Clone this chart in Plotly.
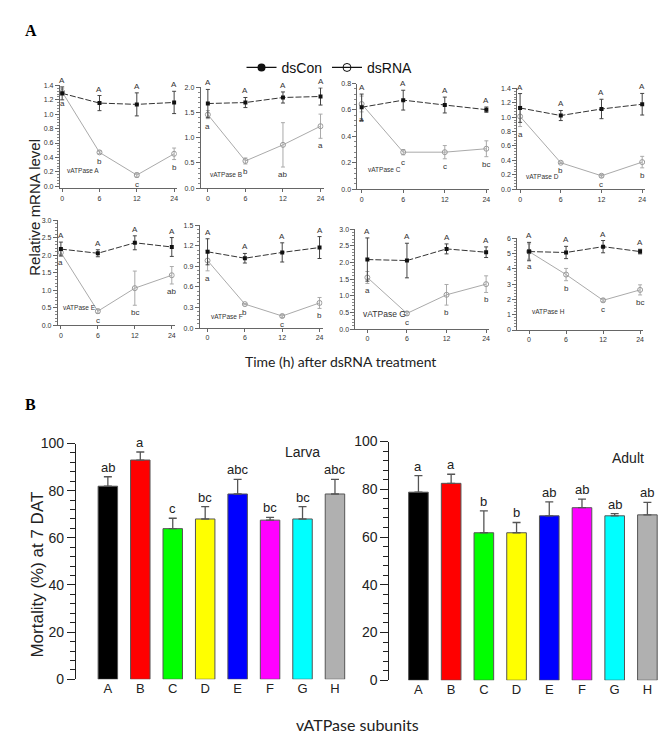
import plotly.graph_objects as go

W, H = 669, 738

# ---- panel A data: relative mRNA level over time ----
times = ["0", "6", "12", "24"]
subunits = ["A", "B", "C", "D", "E", "F", "G", "H"]

con_mean = [
    [1.29, 1.155, 1.137, 1.164],
    [1.68, 1.70, 1.80, 1.82],
    [0.62, 0.674, 0.637, 0.602],
    [1.128, 1.023, 1.114, 1.18],
    [2.18, 2.06, 2.36, 2.24],
    [1.114, 1.02, 1.105, 1.176],
    [2.09, 2.06, 2.41, 2.31],
    [5.12, 5.06, 5.44, 5.12],
]
con_err = [
    [0.09, 0.105, 0.16, 0.155],
    [0.28, 0.10, 0.11, 0.17],
    [0.10, 0.075, 0.06, 0.02],
    [0.20, 0.07, 0.135, 0.15],
    [0.20, 0.10, 0.20, 0.27],
    [0.19, 0.07, 0.14, 0.16],
    [0.65, 0.52, 0.15, 0.16],
    [0.60, 0.40, 0.40, 0.15],
]
rna_mean = [
    [1.31, 0.47, 0.154, 0.45],
    [1.46, 0.54, 0.86, 1.23],
    [0.645, 0.28, 0.28, 0.306],
    [1.01, 0.367, 0.186, 0.376],
    [2.08, 0.40, 1.06, 1.43],
    [0.986, 0.35, 0.176, 0.367],
    [1.55, 0.47, 1.03, 1.35],
    [5.12, 3.62, 1.94, 2.62],
]
rna_err = [
    [0.05, 0.02, 0.03, 0.08],
    [0.08, 0.06, 0.44, 0.24],
    [0.06, 0.02, 0.05, 0.06],
    [0.14, 0.01, 0.02, 0.08],
    [0.08, 0.06, 0.49, 0.25],
    [0.15, 0.01, 0.02, 0.08],
    [0.18, 0.06, 0.31, 0.25],
    [0.50, 0.40, 0.10, 0.33],
]
rna_letters = [
    ["a", "b", "c", "b"],
    ["a", "b", "ab", "a"],
    ["a", "c", "c", "bc"],
    ["a", "b", "c", "b"],
    ["a", "c", "bc", "ab"],
    ["a", "b", "c", "b"],
    ["a", "c", "b", "b"],
    ["a", "b", "c", "bc"],
]
y_max = [1.4, 2.0, 0.8, 1.4, 3.0, 1.5, 3.0, 6.0]
y_step = [0.2, 0.5, 0.2, 0.2, 0.5, 0.3, 0.5, 1.0]

# ---- panel B data: mortality at 7 DAT ----
larva_mean = [81.9, 93.0, 63.9, 68.0, 78.6, 67.5, 68.0, 78.6]
larva_err = [4.0, 3.4, 4.4, 5.2, 6.2, 1.2, 5.2, 6.2]
larva_letters = ["ab", "a", "c", "bc", "abc", "bc", "bc", "abc"]
adult_mean = [78.8, 82.5, 61.8, 61.8, 68.9, 72.3, 68.9, 69.3]
adult_err = [6.9, 3.8, 9.2, 4.3, 5.8, 3.6, 0.9, 5.2]
adult_letters = ["a", "a", "b", "b", "ab", "ab", "ab", "ab"]
bar_colors = ["#000000", "#ff0000", "#00ff00", "#ffff00", "#0000ff",
              "#ff00ff", "#00ffff", "#b0b0b0"]


def px(p):
    return p / W


def py(p):
    return 1 - p / H


# pixel boxes for the line panels: (x0, x1, y_top, y_bottom, xmin, xmax, ymin)
boxes = [
    (52, 169, 71, 176, -0.06, 3.07, -0.028),
    (193, 316, 73, 176, -0.19, 3.08, 0),
    (350, 482, 69, 177, -0.10, 3.07, 0),
    (510, 638, 74, 177, -0.07, 3.07, 0),
    (50, 167, 209, 316, -0.08, 3.08, 0),
    (192, 315, 214, 319, -0.21, 3.08, 0),
    (348, 482, 218, 320, -0.30, 3.08, 0),
    (510, 636, 227, 321, -0.32, 3.08, 0),
]
# where the "vATPase X" caption sits, in each panel's own units
label_pos = [(0.08, 0.22), (0.0, 0.27), (0.1, 0.15), (0.1, 0.18),
             (0.0, 0.5), (0.05, 0.17), (-0.15, 0.44), (0.03, 1.2)]

fig = go.Figure()
layout = {}
annotations = []
tiny = dict(family="Arial", size=7, color="#333")

for i, s in enumerate(subunits):
    k = i + 1
    xa = "x" if k == 1 else f"x{k}"
    ya = "y" if k == 1 else f"y{k}"
    x0, x1, yt, yb, xmin, xmax, ymin = boxes[i]
    xs = list(range(len(times)))
    layout[f"xaxis{k}"] = dict(
        domain=[px(x0), px(x1)], anchor=ya, range=[xmin, xmax],
        tickvals=xs, ticktext=times, showgrid=False, zeroline=False,
        showline=True, linecolor="#666", linewidth=1, ticks="outside",
        ticklen=3, tickcolor="#666", tickfont=tiny,
    )
    layout[f"yaxis{k}"] = dict(
        domain=[py(yb), py(yt)], anchor=xa, range=[ymin, y_max[i]],
        dtick=y_step[i], tick0=0,
        tickformat=".0f" if y_step[i] >= 1 else ".1f",
        showgrid=False, zeroline=False, showline=True, linecolor="#666",
        linewidth=1, ticks="outside", ticklen=4, tickcolor="#666",
        tickfont=tiny,
        minor=dict(dtick=y_step[i] / 5, ticks="outside", ticklen=2,
                   tickcolor="#888", showgrid=False),
    )
    fig.add_trace(go.Scatter(
        x=xs, y=rna_mean[i], xaxis=xa, yaxis=ya, mode="lines+markers",
        line=dict(color="#aaaaaa", width=1),
        marker=dict(symbol="circle-open", size=5, color="#999999"),
        error_y=dict(type="data", array=rna_err[i], color="#aaaaaa",
                     thickness=1, width=2),
        showlegend=False,
    ))
    fig.add_trace(go.Scatter(
        x=xs, y=con_mean[i], xaxis=xa, yaxis=ya, mode="lines+markers",
        line=dict(color="#333333", width=1, dash="6px,2px"),
        marker=dict(symbol="square", size=4, color="#111111"),
        error_y=dict(type="data", array=con_err[i], color="#444444",
                     thickness=1, width=2),
        showlegend=False,
    ))
    for j in xs:
        annotations.append(dict(
            x=j, y=con_mean[i][j] + con_err[i][j], xref=xa, yref=ya,
            text="A", showarrow=False, xanchor="center", yanchor="bottom",
            font=dict(family="Arial", size=8, color="#333"),
        ))
        annotations.append(dict(
            x=j, y=rna_mean[i][j] - rna_err[i][j], xref=xa, yref=ya,
            text=rna_letters[i][j], showarrow=False, xanchor="center",
            yanchor="top", yshift=-1,
            font=dict(family="Arial", size=8, color="#333"),
        ))
    lx, ly = label_pos[i]
    annotations.append(dict(
        x=lx, y=ly, xref=xa, yref=ya, text="vATPase " + s,
        showarrow=False, xanchor="left", yanchor="middle",
        font=dict(family="Arial", size=8.5 if s == "G" else 6.5, color="#333"),
    ))

# legend entries
fig.add_trace(go.Scatter(
    x=[None], y=[None], mode="lines+markers", name="dsCon",
    line=dict(color="#111", width=1.2),
    marker=dict(symbol="circle", size=8, color="#111"),
))
fig.add_trace(go.Scatter(
    x=[None], y=[None], mode="lines+markers", name="dsRNA",
    line=dict(color="#111", width=1.2),
    marker=dict(symbol="circle-open", size=8, color="#111"),
))

# bar panels
bar_boxes = [
    (68, 345, 437, 678, -0.985, 7.54, larva_mean, larva_err, larva_letters),
    (382, 660, 435, 679, -0.887, 7.6, adult_mean, adult_err, adult_letters),
]
for b, (x0, x1, yt, yb, xmin, xmax, vals, errs, letters) in enumerate(bar_boxes):
    k = 9 + b
    xa, ya = f"x{k}", f"y{k}"
    fig.add_trace(go.Bar(
        x=subunits, y=vals, xaxis=xa, yaxis=ya, width=0.6,
        marker=dict(color=bar_colors, line=dict(color="#555", width=1)),
        error_y=dict(type="data", array=errs, symmetric=False,
                     arrayminus=[0] * len(errs), color="#555",
                     thickness=1.3, width=4),
        showlegend=False,
    ))
    layout[f"xaxis{k}"] = dict(
        domain=[px(x0), px(x1)], anchor=ya, range=[xmin, xmax],
        type="category", showgrid=False, zeroline=False, showline=False,
        ticks="", tickfont=dict(family="Arial", size=13, color="#222"),
    )
    layout[f"yaxis{k}"] = dict(
        domain=[py(yb), py(yt)], anchor=xa, range=[0, 100], dtick=20,
        showgrid=False, zeroline=False, showline=True, linecolor="#222",
        linewidth=1.2, ticks="outside", ticklen=8, tickcolor="#222",
        tickwidth=1.2, tickfont=dict(family="Arial", size=14, color="#222"),
        minor=dict(dtick=4, ticks="outside", ticklen=5, tickcolor="#222",
                   showgrid=False),
    )
    for j, s in enumerate(subunits):
        annotations.append(dict(
            x=s, y=vals[j] + errs[j], xref=xa, yref=ya, text=letters[j],
            showarrow=False, xanchor="center", yanchor="bottom",
            font=dict(family="Arial", size=13, color="#222"),
        ))

annotations += [
    dict(x=px(15), y=py(15), xref="paper", yref="paper", text="<b>A</b>",
         showarrow=False, xanchor="left", yanchor="middle",
         font=dict(family="Liberation Serif", size=16, color="#000")),
    dict(x=px(15), y=py(397), xref="paper", yref="paper", text="<b>B</b>",
         showarrow=False, xanchor="left", yanchor="middle",
         font=dict(family="Liberation Serif", size=16, color="#000")),
    dict(x=px(27), y=py(195), xref="paper", yref="paper",
         text="Relative mRNA level", textangle=-90, showarrow=False,
         xanchor="center", yanchor="middle",
         font=dict(family="Arial", size=15, color="#222")),
    dict(x=px(333), y=py(353), xref="paper", yref="paper",
         text="Time (h) after dsRNA treatment", showarrow=False,
         xanchor="center", yanchor="middle",
         font=dict(family="Lato", size=14, color="#222")),
    dict(x=px(30), y=py(571), xref="paper", yref="paper",
         text="Mortality (%) at 7 DAT", textangle=-90, showarrow=False,
         xanchor="center", yanchor="middle",
         font=dict(family="Arial", size=17, color="#222")),
    dict(x=px(350), y=py(724), xref="paper", yref="paper",
         text="vATPase subunits", showarrow=False,
         xanchor="center", yanchor="middle",
         font=dict(family="Lato", size=16, color="#222")),
    dict(x=px(295), y=py(446), xref="paper", yref="paper", text="Larva",
         showarrow=False, xanchor="center", yanchor="middle",
         font=dict(family="Arial", size=14, color="#222")),
    dict(x=px(621), y=py(452), xref="paper", yref="paper", text="Adult",
         showarrow=False, xanchor="center", yanchor="middle",
         font=dict(family="Arial", size=14, color="#222")),
]

fig.update_layout(
    width=W, height=H, margin=dict(l=0, r=0, t=0, b=0),
    paper_bgcolor="white", plot_bgcolor="white",
    annotations=annotations,
    legend=dict(orientation="h", x=px(322), y=py(53), xanchor="center",
                yanchor="middle", font=dict(family="Arial", size=14, color="#111"),
                itemwidth=30, bgcolor="rgba(0,0,0,0)"),
    **layout,
)

fig.write_html("out.html")
